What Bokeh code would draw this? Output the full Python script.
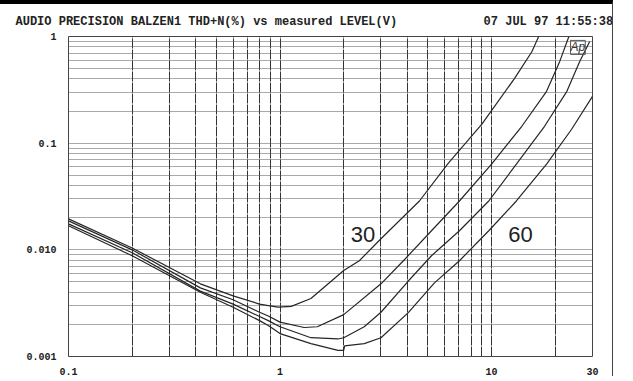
from bokeh.plotting import figure
from bokeh.models import FixedTicker, Label
from bokeh.embed import file_html
from bokeh.resources import INLINE

# ---- data ----
level_a = [0.1, 0.2, 0.42, 0.6, 0.8, 0.88, 0.98, 1.13, 1.4, 2.0, 2.37, 3.0, 4.56, 6.25, 9.0, 12.85, 15.5, 16.7]
thd_a = [0.0195, 0.0104, 0.0048, 0.0037, 0.0031, 0.0030, 0.0029, 0.00295, 0.0035, 0.0064, 0.0079, 0.0127, 0.0287, 0.065, 0.151, 0.405, 0.72, 1.0]

level_b = [0.1, 0.2, 0.42, 0.6, 0.8, 0.88, 1.0, 1.3, 1.5, 2.0, 3.0, 3.83, 5.2, 7.05, 10.0, 13.9, 18.2, 21.0, 23.2]
thd_b = [0.0187, 0.0100, 0.0044, 0.0034, 0.0026, 0.0024, 0.0021, 0.00187, 0.0019, 0.00247, 0.0048, 0.0079, 0.0151, 0.0287, 0.0636, 0.144, 0.306, 0.584, 1.0]

level_c = [0.1, 0.2, 0.42, 0.6, 0.8, 0.88, 1.0, 1.4, 1.88, 2.0, 2.5, 3.0, 4.04, 5.2, 7.05, 9.7, 13.1, 17.8, 22.7, 26.1, 29.1]
thd_c = [0.0175, 0.0094, 0.0041, 0.0031, 0.00237, 0.00217, 0.0019, 0.0015, 0.00146, 0.0015, 0.0019, 0.0026, 0.0051, 0.0088, 0.0151, 0.0287, 0.0636, 0.144, 0.306, 0.584, 0.898]

level_d = [0.1, 0.2, 0.42, 0.6, 0.8, 0.88, 1.0, 1.4, 1.88, 2.0, 2.02, 2.5, 3.0, 4.04, 5.37, 7.05, 9.7, 13.1, 18.2, 23.9, 30.0]
thd_d = [0.0168, 0.0088, 0.0040, 0.0029, 0.00217, 0.00195, 0.00164, 0.00132, 0.00114, 0.00114, 0.00126, 0.00132, 0.0015, 0.00258, 0.0049, 0.0079, 0.0151, 0.0287, 0.0636, 0.135, 0.275]

x_ticks = [0.1, 1, 10, 30]
x_labels = ["0.1", "1", "10", "30"]
y_ticks = [0.001, 0.01, 0.1, 1]
y_labels = ["0.001", "0.010", "0.1", "1"]

title_text = "AUDIO PRECISION BALZEN1 THD+N(%) vs measured LEVEL(V)"
date_text = "07 JUL 97 11:55:38"
NBSP = "\u00a0"

# ---- figure ----
W, H = 613, 376
ML, MR, MT, MB = 68, 21, 31, 24
p = figure(width=W, height=H, x_axis_type="log", y_axis_type="log",
           x_range=(0.1, 30), y_range=(0.001, 1),
           output_backend="svg", toolbar_location=None,
           min_border_left=ML, min_border_right=MR,
           min_border_top=MT, min_border_bottom=MB)
font = "Liberation Mono"
p.title.text = title_text + NBSP * 12 + date_text
p.title.text_font = font
p.title.text_font_style = "bold"
p.title.text_font_size = "12px"
p.title.text_color = "#222222"
p.title.align = "left"
p.title.offset = -53
p.title.standoff = 16
p.background_fill_color = "white"
p.border_fill_color = "white"
p.outline_line_color = "#444444"
p.outline_line_width = 1
p.styles = {"border-top": "4px solid black",
            "border-right": "1px solid #444444"}

for ax in (p.xaxis[0], p.yaxis[0]):
    ax.axis_line_color = None
    ax.major_tick_line_color = None
    ax.minor_tick_line_color = None
    ax.major_label_text_font = font
    ax.major_label_text_font_style = "bold"
    ax.major_label_text_font_size = "10px"
    ax.major_label_text_color = "#222222"
p.xaxis.major_label_standoff = 5
p.yaxis.major_label_standoff = 6

p.xaxis.ticker = FixedTicker(ticks=x_ticks)
p.yaxis.ticker = FixedTicker(ticks=y_ticks)
p.xaxis.major_label_overrides = {float(t): l for t, l in zip(x_ticks, x_labels)}
p.yaxis.major_label_overrides = {float(t): l for t, l in zip(y_ticks, y_labels)}

xg = [k * 10.0 ** e for e in (-1, 0) for k in range(1, 10)] + [10, 20, 30]
yg = [k * 10.0 ** e for e in (-3, -2, -1) for k in range(1, 10)] + [1]
p.xgrid.ticker = FixedTicker(ticks=xg)
p.ygrid.ticker = FixedTicker(ticks=yg)
p.xgrid.grid_line_color = "#333333"
p.xgrid.grid_line_width = 1
p.xgrid.grid_line_dash = "10 1"
p.ygrid.grid_line_color = "#555555"
p.ygrid.grid_line_width = 1
p.ygrid.grid_line_dash = "1 1"

for lv, th in ((level_a, thd_a), (level_b, thd_b), (level_c, thd_c), (level_d, thd_d)):
    p.line(lv, th, line_color="#262626", line_width=1.2)

# annotations inside the plot
p.add_layout(Label(x=2.47, y=0.0138, text="30", text_font="Liberation Sans",
                   text_font_size="22px", text_color="#222222",
                   text_align="center", text_baseline="middle"))
p.add_layout(Label(x=13.7, y=0.0138, text="60", text_font="Liberation Sans",
                   text_font_size="22px", text_color="#222222",
                   text_align="center", text_baseline="middle"))
p.add_layout(Label(x=25.6, y=0.79, text="Ap", text_font="Liberation Sans",
                   text_font_size="12px", text_font_style="italic", text_color="#333333",
                   text_align="center", text_baseline="middle",
                   border_line_color="#555555", border_line_width=1))

open("out.html", "w").write(file_html(p, INLINE))
